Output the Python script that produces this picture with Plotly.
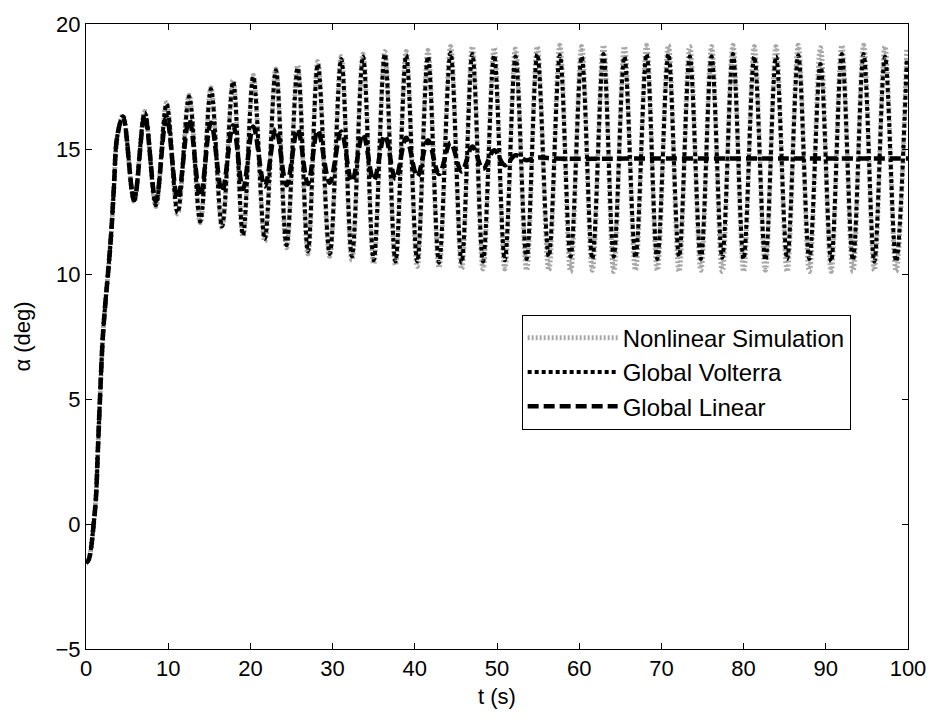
import plotly.graph_objects as go

# ---- data ----
# initial rise (common to all three responses)
rise_t = [0.0, 0.3, 0.6, 0.9, 1.2, 1.45, 1.7, 2.05, 2.4, 2.7, 3.1, 3.4, 3.8]
rise_a = [-1.55, -1.45, -1.0, -0.1, 1.0, 3.0, 5.0, 7.5, 9.0, 10.1, 11.8, 13.5, 15.5]

# times of the oscillation maxima / minima
peak_t = [4.5, 7.15, 9.8, 12.55, 15.2, 17.9, 20.35, 23.1, 25.75, 28.2, 31.05, 33.7,
          36.35, 38.95, 41.6, 44.35, 47.0, 49.65, 52.25, 54.9, 57.65, 60.3, 62.95,
          65.5, 68.2, 70.85, 73.45, 76.1, 78.7, 81.3, 83.95, 86.65, 89.35, 91.95,
          94.6, 97.2, 99.85]
trough_t = [5.85, 8.5, 11.15, 13.9, 16.55, 19.1, 21.75, 24.4, 27.0, 29.65, 32.35,
            35.0, 37.65, 40.3, 42.95, 45.7, 48.3, 50.95, 53.6, 56.3, 58.95, 61.6,
            64.2, 66.85, 69.5, 72.15, 74.8, 77.4, 80.0, 82.65, 85.3, 88.0, 90.65,
            93.3, 95.9, 98.55]

# Global Volterra
volterra_peaks = [16.3, 16.45, 16.8, 17.1, 17.4, 17.7, 17.9, 18.15, 18.25, 18.4, 18.6,
                  18.7, 18.8, 18.75, 18.7, 18.85, 18.8, 18.75, 18.7, 18.8, 18.75, 18.7,
                  18.8, 18.7, 18.8, 18.8, 18.7, 18.7, 18.8, 18.7, 18.7, 18.75, 18.4,
                  18.8, 18.8, 18.7, 18.6]
volterra_troughs = [12.95, 12.75, 12.45, 12.1, 11.9, 11.55, 11.4, 11.15, 10.9, 10.8,
                    10.7, 10.55, 10.5, 10.5, 10.45, 10.45, 10.5, 10.55, 10.6, 10.7,
                    10.7, 10.6, 10.7, 10.65, 10.6, 10.7, 10.6, 10.65, 10.6, 10.55,
                    10.6, 10.6, 10.5, 10.55, 10.5, 10.5]

# Nonlinear Simulation
sim_peaks = [16.35, 16.5, 16.85, 17.15, 17.45, 17.75, 17.95, 18.2, 18.35, 18.5, 18.7,
             18.8, 18.9, 18.9, 18.95, 19.1, 19.1, 19.05, 19.0, 19.1, 19.15, 19.1,
             19.15, 19.1, 19.15, 19.15, 19.1, 19.1, 19.15, 19.1, 19.1, 19.15, 19.05,
             19.15, 19.15, 19.1, 19.0]
sim_troughs = [12.9, 12.7, 12.4, 12.05, 11.85, 11.5, 11.3, 11.05, 10.8, 10.7, 10.55,
               10.4, 10.35, 10.3, 10.25, 10.2, 10.2, 10.2, 10.15, 10.15, 10.1, 10.15,
               10.1, 10.15, 10.15, 10.1, 10.15, 10.1, 10.1, 10.15, 10.1, 10.1, 10.1,
               10.1, 10.15, 10.1]

# Global Linear (decays onto a constant trim value)
linear_peaks = [16.3, 16.35, 16.3, 16.2, 16.05, 15.95, 15.9, 15.8, 15.8, 15.75, 15.7,
                15.6, 15.55, 15.45, 15.35, 15.25, 15.1, 14.95, 14.75, 14.66]
linear_troughs = [12.95, 12.9, 13.0, 13.1, 13.3, 13.4, 13.5, 13.55, 13.6, 13.65, 13.7,
                  13.75, 13.8, 13.9, 14.0, 14.1, 14.2, 14.35, 14.55]
linear_tail_t = [57.0, 70.0, 85.0, 100.0]
linear_tail_a = [14.62, 14.62, 14.62, 14.62]

x_ticks = [0, 10, 20, 30, 40, 50, 60, 70, 80, 90, 100]
y_ticks = [-5, 0, 5, 10, 15, 20]


def build(pt, pv, tt, tv, tail_t=None, tail_a=None):
    pts = list(zip(rise_t, rise_a))
    pts += list(zip(pt[:len(pv)], pv))
    pts += list(zip(tt[:len(tv)], tv))
    if tail_t:
        pts += list(zip(tail_t, tail_a))
    pts.sort(key=lambda p: p[0])
    return [p[0] for p in pts], [p[1] for p in pts]


sim_x, sim_y = build(peak_t, sim_peaks, trough_t, sim_troughs)
vol_x, vol_y = build(peak_t, volterra_peaks, trough_t, volterra_troughs)
lin_x, lin_y = build(peak_t, linear_peaks, trough_t, linear_troughs,
                     linear_tail_t, linear_tail_a)

font = "Liberation Sans, Arial, sans-serif"

fig = go.Figure()
fig.add_trace(go.Scatter(x=sim_x, y=sim_y, mode="lines", name="Nonlinear Simulation",
                         line=dict(color="#a8a8a8", width=5, dash="2px,2px",
                                   shape="spline", smoothing=1.0)))
fig.add_trace(go.Scatter(x=vol_x, y=vol_y, mode="lines", name="Global Volterra",
                         line=dict(color="black", width=4, dash="4px,3px",
                                   shape="spline", smoothing=1.0)))
fig.add_trace(go.Scatter(x=lin_x, y=lin_y, mode="lines", name="Global Linear",
                         line=dict(color="black", width=4.5, dash="11px,5px",
                                   shape="spline", smoothing=1.0)))

axis_common = dict(showline=True, linecolor="black", linewidth=1, mirror="ticks",
                   ticks="inside", ticklen=6, tickcolor="black", tickwidth=1,
                   showgrid=False, zeroline=False,
                   tickfont=dict(family=font, size=22, color="black"))

fig.update_layout(
    width=938, height=721,
    margin=dict(l=86, r=25, t=19, b=72),
    paper_bgcolor="white", plot_bgcolor="white",
    font=dict(family=font, size=22, color="black"),
    showlegend=True,
    legend=dict(x=0.53, y=0.535, xanchor="left", yanchor="top",
                bgcolor="white", bordercolor="black", borderwidth=1,
                font=dict(family=font, size=24, color="black"),
                itemwidth=90, tracegroupgap=0),
    xaxis=dict(range=[0, 100], tickvals=x_ticks,
               title=dict(text="t (s)", font=dict(family=font, size=22), standoff=8),
               **axis_common),
    yaxis=dict(range=[-5, 20], tickvals=y_ticks,
               title=dict(text="α (deg)", font=dict(family=font, size=22), standoff=18),
               **axis_common),
)

fig.write_html("out.html")
